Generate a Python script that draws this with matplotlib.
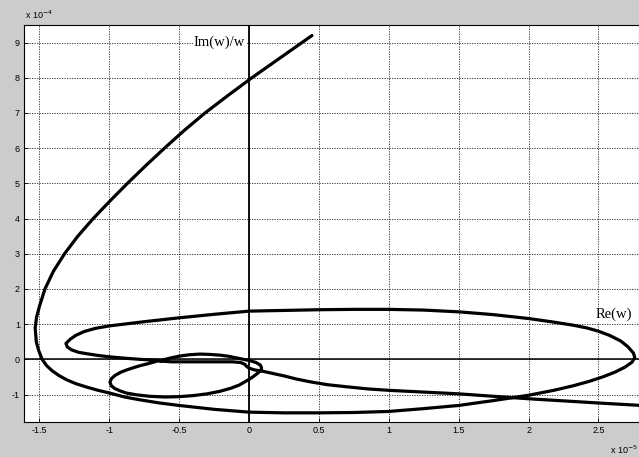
import matplotlib
matplotlib.use("Agg")
import matplotlib.pyplot as plt

# Re(w) in units of 1e-5, Im(w)/w in units of 1e-4
re_w = [0.45, 0.235, 0.02, -0.15, -0.315, -0.465, -0.605, -0.74, -0.87, -0.995, -1.115, -1.225, -1.32,
        -1.40, -1.46, -1.50, -1.52, -1.53, -1.522, -1.505, -1.48,
        -1.45, -1.41, -1.36, -1.305, -1.24, -1.16, -1.08, -0.995, -0.89, -0.78, -0.64, -0.5, -0.25,
        0.0, 0.25, 0.5, 0.75, 1.0, 1.25, 1.5, 1.75, 2.0, 2.18, 2.32, 2.43, 2.53, 2.62, 2.69, 2.74,
        2.76, 2.75, 2.71, 2.66, 2.58, 2.5, 2.42, 2.32, 2.16, 2.0, 1.75, 1.5, 1.25, 1.0, 0.75, 0.5,
        0.25, 0.0, -0.25, -0.5, -0.75, -1.0, -1.1, -1.18, -1.24, -1.28, -1.31, -1.3, -1.27, -1.22,
        -1.16, -1.08, -0.995, -0.88, -0.78, -0.64,
        -0.72, -0.78, -0.83, -0.875, -0.92, -0.96, -0.985, -0.995, -0.985, -0.96, -0.92, -0.875,
        -0.8, -0.71, -0.6, -0.5, -0.4, -0.3, -0.21, -0.13, -0.07, -0.03, 0.0, 0.03, 0.06, 0.085,
        0.09, 0.08, 0.05, 0.01, -0.04, -0.09, -0.15, -0.21, -0.28, -0.35, -0.43, -0.5, -0.56,
        -0.61, -0.64,
        -0.55, -0.4, -0.25, -0.12, -0.06, -0.03, -0.02, 0.0, 0.04, 0.1, 0.17, 0.25, 0.34, 0.44,
        0.56, 0.7, 0.85, 1.0, 1.25, 1.5, 1.75, 2.0, 2.25, 2.5, 2.85]
im_w = [9.2, 8.6, 8.0, 7.5, 7.0, 6.5, 6.0, 5.5, 5.0, 4.5, 4.0, 3.5, 3.0,
        2.5, 2.0, 1.5, 1.2, 0.9, 0.5, 0.25, 0.0,
        -0.17, -0.32, -0.46, -0.58, -0.69, -0.79, -0.88, -0.96, -1.07, -1.15, -1.24, -1.31, -1.42,
        -1.5, -1.52, -1.52, -1.51, -1.48, -1.4, -1.31, -1.17, -1.02, -0.88, -0.75, -0.63, -0.5,
        -0.36, -0.22, -0.08,
        0.05, 0.18, 0.36, 0.52, 0.68, 0.8, 0.89, 0.97, 1.07, 1.16, 1.27, 1.35, 1.4, 1.42, 1.42, 1.41,
        1.39, 1.37, 1.28, 1.18, 1.07, 0.95, 0.88, 0.79, 0.68, 0.57, 0.45, 0.35, 0.27, 0.2,
        0.16, 0.11, 0.07, 0.03, 0.0, -0.03,
        -0.12, -0.18, -0.24, -0.3, -0.37, -0.46, -0.55, -0.65, -0.75, -0.83, -0.9, -0.96,
        -1.01, -1.05, -1.07, -1.06, -1.03, -0.98, -0.91, -0.82, -0.73, -0.64, -0.57, -0.49, -0.4, -0.31,
        -0.24, -0.16, -0.09, -0.04, 0.0, 0.04, 0.09, 0.12, 0.14, 0.15, 0.13, 0.09, 0.04,
        -0.01, -0.05,
        -0.07, -0.07, -0.07, -0.07, -0.09, -0.14, -0.19, -0.25, -0.3, -0.34, -0.4, -0.47, -0.56, -0.64,
        -0.72, -0.78, -0.84, -0.88, -0.93, -0.98, -1.05, -1.12, -1.18, -1.24, -1.32]

x_ticks = [-1.5, -1, -0.5, 0, 0.5, 1, 1.5, 2, 2.5]
x_labels = ["-1.5", "-1", "-0.5", "0", "0.5", "1", "1.5", "2", "2.5"]
y_ticks = list(range(-1, 10))
y_labels = [str(v) for v in y_ticks]

plt.rcParams['font.family'] = ['Liberation Sans', 'DejaVu Sans']

fig = plt.figure(figsize=(6.39, 4.57), dpi=100, facecolor='#cccccc')
ax = fig.add_axes([24 / 639, 35 / 457, 615 / 639, 397 / 457])
ax.set_facecolor('white')

ax.set_xlim(-1.61, 2.79)
ax.set_ylim(-1.78, 9.5)
ax.set_xticks(x_ticks)
ax.set_xticklabels(x_labels)
ax.set_yticks(y_ticks)
ax.set_yticklabels(y_labels)
ax.tick_params(direction='in', length=3, width=0.6, labelsize=6.5, pad=3)
for s in ax.spines.values():
    s.set_linewidth(0.8)
ax.grid(True, color='#222222', linestyle=(0, (1.5, 1.5)), linewidth=0.6)
ax.set_axisbelow(True)

ax.axhline(0, color='black', lw=1.1, zorder=2)
ax.axvline(0, color='black', lw=1.3, zorder=2)
ax.plot(re_w, im_w, color='black', lw=2.3, solid_joinstyle='round', solid_capstyle='round', zorder=3)

ax.text(-0.03, 9.02, "Im(w)/w", family='Liberation Serif', fontsize=10.5, ha='right', va='center',
        bbox=dict(facecolor='white', edgecolor='none', pad=0.5), zorder=4)
ax.text(2.74, 1.28, "Re(w)", family='Liberation Serif', fontsize=10.5, ha='right', va='center',
        bbox=dict(facecolor='white', edgecolor='none', pad=0.5), zorder=4)

fig.text(25 / 639, 1 - 15 / 457, r"x 10$^{-4}$", fontsize=6.5, ha='left', va='center')
fig.text(638 / 639, 1 - 450 / 457, r"x 10$^{-5}$", fontsize=6.5, ha='right', va='center')

fig.savefig("out.png", dpi=100, facecolor=fig.get_facecolor())
